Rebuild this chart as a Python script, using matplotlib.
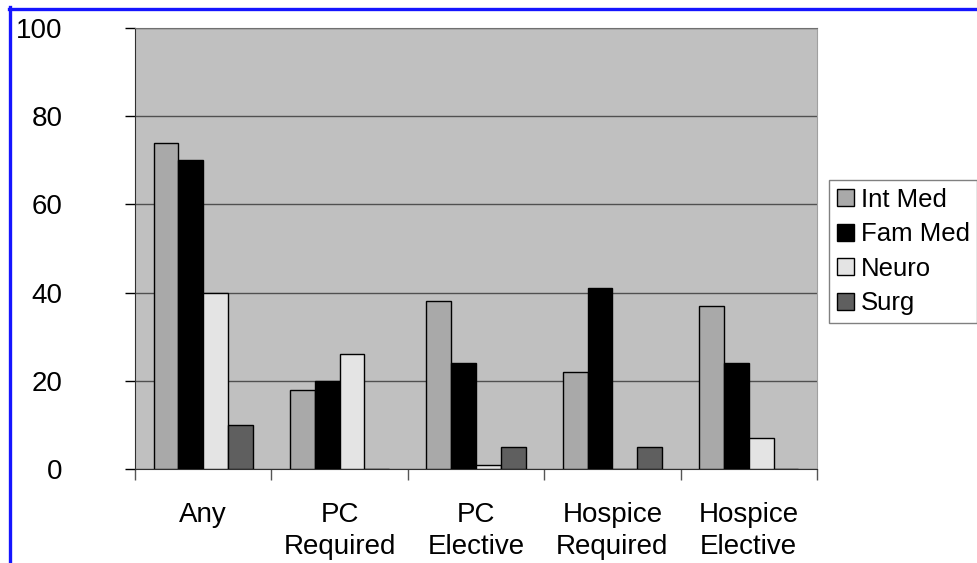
import matplotlib
matplotlib.use("Agg")
import matplotlib.pyplot as plt
from matplotlib.lines import Line2D
import numpy as np

categories = ["Any", "PC\nRequired", "PC\nElective", "Hospice\nRequired", "Hospice\nElective"]
series_names = ["Int Med", "Fam Med", "Neuro", "Surg"]
int_med = [74, 18, 38, 22, 37]
fam_med = [70, 20, 24, 41, 24]
neuro = [40, 26, 1, 0, 7]
surg = [10, 0, 5, 5, 0]
y_ticks = [0, 20, 40, 60, 80, 100]

colors = ["#a9a9a9", "#000000", "#e4e4e4", "#5f5f5f"]
plt.rcParams['font.family'] = ['Liberation Sans', 'DejaVu Sans']

fig = plt.figure(figsize=(9.78, 5.63), dpi=100)
ax = fig.add_axes([135/978, 1-469/563, (817-135)/978, (469-28)/563])
ax.set_facecolor("#c0c0c0")

x = np.arange(len(categories))
w = 1/5.5
values = [int_med, fam_med, neuro, surg]
for i, (name, vals) in enumerate(zip(series_names, values)):
    offs = (i - 1.5) * w
    ax.bar(x + offs, vals, width=w, color=colors[i], edgecolor="black", linewidth=1.0, zorder=3, label=name)

ax.set_xlim(-0.5, len(categories) - 0.5)
ax.set_ylim(0, 100)
ax.set_yticks(y_ticks)
ax.yaxis.grid(True, color="#505050", linewidth=1.0, zorder=1)
ax.set_axisbelow(True)
ax.tick_params(axis="y", direction="out", length=7, width=1, pad=45, labelsize=20, colors="black")

ax.set_xticks(np.arange(len(categories) + 1) - 0.5)
ax.set_xticklabels([])
ax.tick_params(axis="x", which="major", direction="out", length=8, width=1, color="#555555")
ax.set_xticks(x, minor=True)
ax.set_xticklabels(categories, minor=True, fontsize=20, linespacing=1.28)
ax.tick_params(axis="x", which="minor", length=0, pad=24)

ax.spines["left"].set_color("#303030")
ax.spines["bottom"].set_color("#303030")
ax.spines["top"].set_color("#707070")
ax.spines["right"].set_color("#a0a0a0")

leg = ax.legend(loc="upper left", bbox_to_anchor=(829/978, 1-180/563), bbox_transform=fig.transFigure,
                fontsize=18.5, frameon=True, fancybox=False, edgecolor="#808080", facecolor="white",
                framealpha=1, handlelength=0.66, handleheight=0.66, handletextpad=0.27,
                labelspacing=0.41, borderpad=0.3, borderaxespad=0)
leg.get_frame().set_linewidth(1.0)

fig.add_artist(Line2D([9/978, 1], [1-8.5/563, 1-8.5/563], transform=fig.transFigure, color="#1515ff", linewidth=2.4))
fig.add_artist(Line2D([9.7/978, 9.7/978], [0, 1-7/563], transform=fig.transFigure, color="#1515ff", linewidth=2.4))

fig.savefig("out.png", dpi=100, facecolor="white")
